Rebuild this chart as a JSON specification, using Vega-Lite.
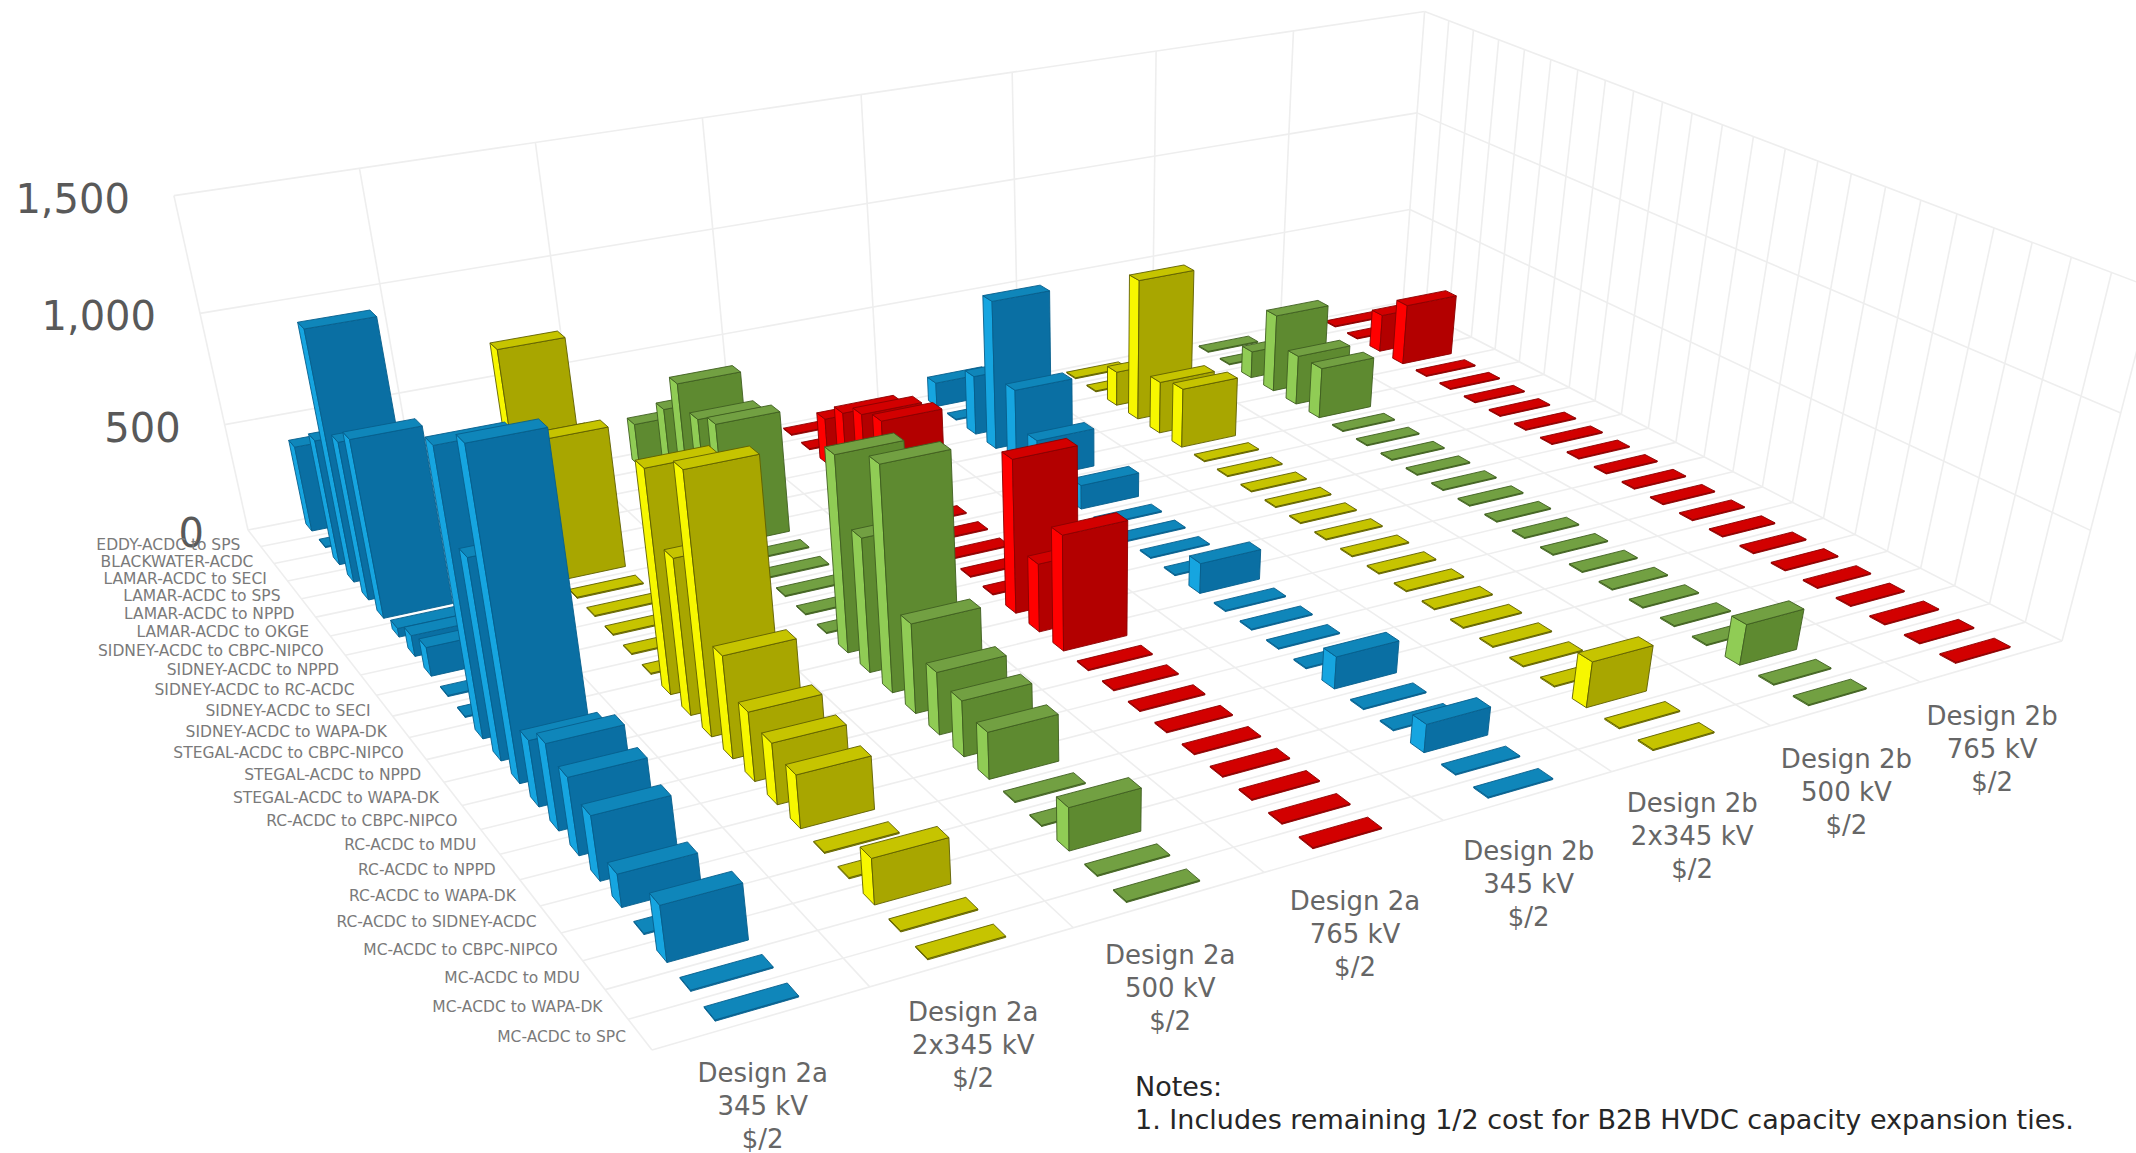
{"$schema":"https://vega.github.io/schema/vega-lite/v6.json","width":2136,"height":1153,"padding":0,"autosize":{"type":"fit","contains":"padding"},"background":"white","config":{"view":{"stroke":null}},
"datasets":{
"routes":[{"route":"EDDY-ACDC to SPS"},{"route":"BLACKWATER-ACDC"},{"route":"LAMAR-ACDC to SECI"},{"route":"LAMAR-ACDC to SPS"},{"route":"LAMAR-ACDC to NPPD"},{"route":"LAMAR-ACDC to OKGE"},{"route":"SIDNEY-ACDC to CBPC-NIPCO"},{"route":"SIDNEY-ACDC to NPPD"},{"route":"SIDNEY-ACDC to RC-ACDC"},{"route":"SIDNEY-ACDC to SECI"},{"route":"SIDNEY-ACDC to WAPA-DK"},{"route":"STEGAL-ACDC to CBPC-NIPCO"},{"route":"STEGAL-ACDC to NPPD"},{"route":"STEGAL-ACDC to WAPA-DK"},{"route":"RC-ACDC to CBPC-NIPCO"},{"route":"RC-ACDC to MDU"},{"route":"RC-ACDC to NPPD"},{"route":"RC-ACDC to WAPA-DK"},{"route":"RC-ACDC to SIDNEY-ACDC"},{"route":"MC-ACDC to CBPC-NIPCO"},{"route":"MC-ACDC to MDU"},{"route":"MC-ACDC to WAPA-DK"},{"route":"MC-ACDC to SPC"}],
"designs":[{"label":"Design 2a\n345 kV\n$/2"},{"label":"Design 2a\n2x345 kV\n$/2"},{"label":"Design 2a\n500 kV\n$/2"},{"label":"Design 2a\n765 kV\n$/2"},{"label":"Design 2b\n345 kV\n$/2"},{"label":"Design 2b\n2x345 kV\n$/2"},{"label":"Design 2b\n500 kV\n$/2"},{"label":"Design 2b\n765 kV\n$/2"}],
"ticks":[{"tick":0},{"tick":500},{"tick":1000},{"tick":1500}],
"notes":[{"note":"Notes:","line":0},{"note":"1. Includes remaining 1/2 cost for B2B HVDC capacity expansion ties.","line":1}],
"grid":[
{"c0":0,"r0":0,"v0":0,"c1":0,"r1":23,"v1":0},{"c0":1,"r0":0,"v0":0,"c1":1,"r1":23,"v1":0},{"c0":2,"r0":0,"v0":0,"c1":2,"r1":23,"v1":0},{"c0":3,"r0":0,"v0":0,"c1":3,"r1":23,"v1":0},{"c0":4,"r0":0,"v0":0,"c1":4,"r1":23,"v1":0},{"c0":5,"r0":0,"v0":0,"c1":5,"r1":23,"v1":0},{"c0":6,"r0":0,"v0":0,"c1":6,"r1":23,"v1":0},{"c0":7,"r0":0,"v0":0,"c1":7,"r1":23,"v1":0},{"c0":8,"r0":0,"v0":0,"c1":8,"r1":23,"v1":0},
{"c0":0,"r0":0,"v0":0,"c1":8,"r1":0,"v1":0},{"c0":0,"r0":1,"v0":0,"c1":8,"r1":1,"v1":0},{"c0":0,"r0":2,"v0":0,"c1":8,"r1":2,"v1":0},{"c0":0,"r0":3,"v0":0,"c1":8,"r1":3,"v1":0},{"c0":0,"r0":4,"v0":0,"c1":8,"r1":4,"v1":0},{"c0":0,"r0":5,"v0":0,"c1":8,"r1":5,"v1":0},{"c0":0,"r0":6,"v0":0,"c1":8,"r1":6,"v1":0},{"c0":0,"r0":7,"v0":0,"c1":8,"r1":7,"v1":0},{"c0":0,"r0":8,"v0":0,"c1":8,"r1":8,"v1":0},{"c0":0,"r0":9,"v0":0,"c1":8,"r1":9,"v1":0},{"c0":0,"r0":10,"v0":0,"c1":8,"r1":10,"v1":0},{"c0":0,"r0":11,"v0":0,"c1":8,"r1":11,"v1":0},{"c0":0,"r0":12,"v0":0,"c1":8,"r1":12,"v1":0},{"c0":0,"r0":13,"v0":0,"c1":8,"r1":13,"v1":0},{"c0":0,"r0":14,"v0":0,"c1":8,"r1":14,"v1":0},{"c0":0,"r0":15,"v0":0,"c1":8,"r1":15,"v1":0},{"c0":0,"r0":16,"v0":0,"c1":8,"r1":16,"v1":0},{"c0":0,"r0":17,"v0":0,"c1":8,"r1":17,"v1":0},{"c0":0,"r0":18,"v0":0,"c1":8,"r1":18,"v1":0},{"c0":0,"r0":19,"v0":0,"c1":8,"r1":19,"v1":0},{"c0":0,"r0":20,"v0":0,"c1":8,"r1":20,"v1":0},{"c0":0,"r0":21,"v0":0,"c1":8,"r1":21,"v1":0},{"c0":0,"r0":22,"v0":0,"c1":8,"r1":22,"v1":0},{"c0":0,"r0":23,"v0":0,"c1":8,"r1":23,"v1":0},
{"c0":0,"r0":0,"v0":0,"c1":0,"r1":0,"v1":1500},{"c0":1,"r0":0,"v0":0,"c1":1,"r1":0,"v1":1500},{"c0":2,"r0":0,"v0":0,"c1":2,"r1":0,"v1":1500},{"c0":3,"r0":0,"v0":0,"c1":3,"r1":0,"v1":1500},{"c0":4,"r0":0,"v0":0,"c1":4,"r1":0,"v1":1500},{"c0":5,"r0":0,"v0":0,"c1":5,"r1":0,"v1":1500},{"c0":6,"r0":0,"v0":0,"c1":6,"r1":0,"v1":1500},{"c0":7,"r0":0,"v0":0,"c1":7,"r1":0,"v1":1500},{"c0":8,"r0":0,"v0":0,"c1":8,"r1":0,"v1":1500},
{"c0":0,"r0":0,"v0":500,"c1":8,"r1":0,"v1":500},{"c0":0,"r0":0,"v0":1000,"c1":8,"r1":0,"v1":1000},{"c0":0,"r0":0,"v0":1500,"c1":8,"r1":0,"v1":1500},
{"c0":8,"r0":1,"v0":0,"c1":8,"r1":1,"v1":1500},{"c0":8,"r0":2,"v0":0,"c1":8,"r1":2,"v1":1500},{"c0":8,"r0":3,"v0":0,"c1":8,"r1":3,"v1":1500},{"c0":8,"r0":4,"v0":0,"c1":8,"r1":4,"v1":1500},{"c0":8,"r0":5,"v0":0,"c1":8,"r1":5,"v1":1500},{"c0":8,"r0":6,"v0":0,"c1":8,"r1":6,"v1":1500},{"c0":8,"r0":7,"v0":0,"c1":8,"r1":7,"v1":1500},{"c0":8,"r0":8,"v0":0,"c1":8,"r1":8,"v1":1500},{"c0":8,"r0":9,"v0":0,"c1":8,"r1":9,"v1":1500},{"c0":8,"r0":10,"v0":0,"c1":8,"r1":10,"v1":1500},{"c0":8,"r0":11,"v0":0,"c1":8,"r1":11,"v1":1500},{"c0":8,"r0":12,"v0":0,"c1":8,"r1":12,"v1":1500},{"c0":8,"r0":13,"v0":0,"c1":8,"r1":13,"v1":1500},{"c0":8,"r0":14,"v0":0,"c1":8,"r1":14,"v1":1500},{"c0":8,"r0":15,"v0":0,"c1":8,"r1":15,"v1":1500},{"c0":8,"r0":16,"v0":0,"c1":8,"r1":16,"v1":1500},{"c0":8,"r0":17,"v0":0,"c1":8,"r1":17,"v1":1500},{"c0":8,"r0":18,"v0":0,"c1":8,"r1":18,"v1":1500},{"c0":8,"r0":19,"v0":0,"c1":8,"r1":19,"v1":1500},{"c0":8,"r0":20,"v0":0,"c1":8,"r1":20,"v1":1500},{"c0":8,"r0":21,"v0":0,"c1":8,"r1":21,"v1":1500},{"c0":8,"r0":22,"v0":0,"c1":8,"r1":22,"v1":1500},{"c0":8,"r0":23,"v0":0,"c1":8,"r1":23,"v1":1500},
{"c0":8,"r0":0,"v0":500,"c1":8,"r1":23,"v1":500},{"c0":8,"r0":0,"v0":1000,"c1":8,"r1":23,"v1":1000},{"c0":8,"r0":0,"v0":1500,"c1":8,"r1":23,"v1":1500}
],
"bars":[
{"route":"EDDY-ACDC to SPS","design":"2b 765","value":5},{"route":"EDDY-ACDC to SPS","design":"2b 500","value":5},{"route":"EDDY-ACDC to SPS","design":"2b 2x345","value":5},{"route":"EDDY-ACDC to SPS","design":"2b 345","value":120},{"route":"EDDY-ACDC to SPS","design":"2a 765","value":5},{"route":"EDDY-ACDC to SPS","design":"2a 500","value":205},{"route":"EDDY-ACDC to SPS","design":"2a 2x345","value":250},{"route":"EDDY-ACDC to SPS","design":"2a 345","value":400},
{"route":"BLACKWATER-ACDC","design":"2b 765","value":5},{"route":"BLACKWATER-ACDC","design":"2b 500","value":5},{"route":"BLACKWATER-ACDC","design":"2b 2x345","value":5},{"route":"BLACKWATER-ACDC","design":"2b 345","value":5},{"route":"BLACKWATER-ACDC","design":"2a 765","value":5},{"route":"BLACKWATER-ACDC","design":"2a 500","value":5},{"route":"BLACKWATER-ACDC","design":"2a 2x345","value":5},{"route":"BLACKWATER-ACDC","design":"2a 345","value":5},
{"route":"LAMAR-ACDC to SECI","design":"2b 765","value":190},{"route":"LAMAR-ACDC to SECI","design":"2b 500","value":135},{"route":"LAMAR-ACDC to SECI","design":"2b 2x345","value":170},{"route":"LAMAR-ACDC to SECI","design":"2b 345","value":290},{"route":"LAMAR-ACDC to SECI","design":"2a 765","value":225},{"route":"LAMAR-ACDC to SECI","design":"2a 500","value":420},{"route":"LAMAR-ACDC to SECI","design":"2a 2x345","value":400},{"route":"LAMAR-ACDC to SECI","design":"2a 345","value":575},
{"route":"LAMAR-ACDC to SPS","design":"2b 765","value":305},{"route":"LAMAR-ACDC to SPS","design":"2b 500","value":385},{"route":"LAMAR-ACDC to SPS","design":"2b 2x345","value":690},{"route":"LAMAR-ACDC to SPS","design":"2b 345","value":720},{"route":"LAMAR-ACDC to SPS","design":"2a 765","value":325},{"route":"LAMAR-ACDC to SPS","design":"2a 500","value":610},{"route":"LAMAR-ACDC to SPS","design":"2a 2x345","value":905},{"route":"LAMAR-ACDC to SPS","design":"2a 345","value":1130},
{"route":"LAMAR-ACDC to NPPD","design":"2b 765","value":5},{"route":"LAMAR-ACDC to NPPD","design":"2b 500","value":245},{"route":"LAMAR-ACDC to NPPD","design":"2b 2x345","value":255},{"route":"LAMAR-ACDC to NPPD","design":"2b 345","value":360},{"route":"LAMAR-ACDC to NPPD","design":"2a 765","value":390},{"route":"LAMAR-ACDC to NPPD","design":"2a 500","value":515},{"route":"LAMAR-ACDC to NPPD","design":"2a 2x345","value":560},{"route":"LAMAR-ACDC to NPPD","design":"2a 345","value":715},
{"route":"LAMAR-ACDC to OKGE","design":"2b 765","value":5},{"route":"LAMAR-ACDC to OKGE","design":"2b 500","value":250},{"route":"LAMAR-ACDC to OKGE","design":"2b 2x345","value":290},{"route":"LAMAR-ACDC to OKGE","design":"2b 345","value":185},{"route":"LAMAR-ACDC to OKGE","design":"2a 765","value":430},{"route":"LAMAR-ACDC to OKGE","design":"2a 500","value":565},{"route":"LAMAR-ACDC to OKGE","design":"2a 2x345","value":645},{"route":"LAMAR-ACDC to OKGE","design":"2a 345","value":800},
{"route":"SIDNEY-ACDC to CBPC-NIPCO","design":"2b 765","value":5},{"route":"SIDNEY-ACDC to CBPC-NIPCO","design":"2b 500","value":5},{"route":"SIDNEY-ACDC to CBPC-NIPCO","design":"2b 2x345","value":5},{"route":"SIDNEY-ACDC to CBPC-NIPCO","design":"2b 345","value":5},{"route":"SIDNEY-ACDC to CBPC-NIPCO","design":"2a 765","value":5},{"route":"SIDNEY-ACDC to CBPC-NIPCO","design":"2a 500","value":5},{"route":"SIDNEY-ACDC to CBPC-NIPCO","design":"2a 2x345","value":5},{"route":"SIDNEY-ACDC to CBPC-NIPCO","design":"2a 345","value":40},
{"route":"SIDNEY-ACDC to NPPD","design":"2b 765","value":5},{"route":"SIDNEY-ACDC to NPPD","design":"2b 500","value":5},{"route":"SIDNEY-ACDC to NPPD","design":"2b 2x345","value":5},{"route":"SIDNEY-ACDC to NPPD","design":"2b 345","value":115},{"route":"SIDNEY-ACDC to NPPD","design":"2a 765","value":5},{"route":"SIDNEY-ACDC to NPPD","design":"2a 500","value":5},{"route":"SIDNEY-ACDC to NPPD","design":"2a 2x345","value":5},{"route":"SIDNEY-ACDC to NPPD","design":"2a 345","value":95},
{"route":"SIDNEY-ACDC to RC-ACDC","design":"2b 765","value":5},{"route":"SIDNEY-ACDC to RC-ACDC","design":"2b 500","value":5},{"route":"SIDNEY-ACDC to RC-ACDC","design":"2b 2x345","value":5},{"route":"SIDNEY-ACDC to RC-ACDC","design":"2b 345","value":5},{"route":"SIDNEY-ACDC to RC-ACDC","design":"2a 765","value":5},{"route":"SIDNEY-ACDC to RC-ACDC","design":"2a 500","value":5},{"route":"SIDNEY-ACDC to RC-ACDC","design":"2a 2x345","value":5},{"route":"SIDNEY-ACDC to RC-ACDC","design":"2a 345","value":130},
{"route":"SIDNEY-ACDC to SECI","design":"2b 765","value":5},{"route":"SIDNEY-ACDC to SECI","design":"2b 500","value":5},{"route":"SIDNEY-ACDC to SECI","design":"2b 2x345","value":5},{"route":"SIDNEY-ACDC to SECI","design":"2b 345","value":5},{"route":"SIDNEY-ACDC to SECI","design":"2a 765","value":5},{"route":"SIDNEY-ACDC to SECI","design":"2a 500","value":5},{"route":"SIDNEY-ACDC to SECI","design":"2a 2x345","value":5},{"route":"SIDNEY-ACDC to SECI","design":"2a 345","value":5},
{"route":"SIDNEY-ACDC to WAPA-DK","design":"2b 765","value":5},{"route":"SIDNEY-ACDC to WAPA-DK","design":"2b 500","value":5},{"route":"SIDNEY-ACDC to WAPA-DK","design":"2b 2x345","value":5},{"route":"SIDNEY-ACDC to WAPA-DK","design":"2b 345","value":5},{"route":"SIDNEY-ACDC to WAPA-DK","design":"2a 765","value":5},{"route":"SIDNEY-ACDC to WAPA-DK","design":"2a 500","value":5},{"route":"SIDNEY-ACDC to WAPA-DK","design":"2a 2x345","value":5},{"route":"SIDNEY-ACDC to WAPA-DK","design":"2a 345","value":5},
{"route":"STEGAL-ACDC to CBPC-NIPCO","design":"2b 765","value":5},{"route":"STEGAL-ACDC to CBPC-NIPCO","design":"2b 500","value":5},{"route":"STEGAL-ACDC to CBPC-NIPCO","design":"2b 2x345","value":5},{"route":"STEGAL-ACDC to CBPC-NIPCO","design":"2b 345","value":5},{"route":"STEGAL-ACDC to CBPC-NIPCO","design":"2a 765","value":695},{"route":"STEGAL-ACDC to CBPC-NIPCO","design":"2a 500","value":870},{"route":"STEGAL-ACDC to CBPC-NIPCO","design":"2a 2x345","value":970},{"route":"STEGAL-ACDC to CBPC-NIPCO","design":"2a 345","value":1215},
{"route":"STEGAL-ACDC to NPPD","design":"2b 765","value":5},{"route":"STEGAL-ACDC to NPPD","design":"2b 500","value":5},{"route":"STEGAL-ACDC to NPPD","design":"2b 2x345","value":5},{"route":"STEGAL-ACDC to NPPD","design":"2b 345","value":140},{"route":"STEGAL-ACDC to NPPD","design":"2a 765","value":310},{"route":"STEGAL-ACDC to NPPD","design":"2a 500","value":595},{"route":"STEGAL-ACDC to NPPD","design":"2a 2x345","value":680},{"route":"STEGAL-ACDC to NPPD","design":"2a 345","value":855},
{"route":"STEGAL-ACDC to WAPA-DK","design":"2b 765","value":5},{"route":"STEGAL-ACDC to WAPA-DK","design":"2b 500","value":5},{"route":"STEGAL-ACDC to WAPA-DK","design":"2b 2x345","value":5},{"route":"STEGAL-ACDC to WAPA-DK","design":"2b 345","value":5},{"route":"STEGAL-ACDC to WAPA-DK","design":"2a 765","value":520},{"route":"STEGAL-ACDC to WAPA-DK","design":"2a 500","value":980},{"route":"STEGAL-ACDC to WAPA-DK","design":"2a 2x345","value":1115},{"route":"STEGAL-ACDC to WAPA-DK","design":"2a 345","value":1370},
{"route":"RC-ACDC to CBPC-NIPCO","design":"2b 765","value":5},{"route":"RC-ACDC to CBPC-NIPCO","design":"2b 500","value":5},{"route":"RC-ACDC to CBPC-NIPCO","design":"2b 2x345","value":5},{"route":"RC-ACDC to CBPC-NIPCO","design":"2b 345","value":5},{"route":"RC-ACDC to CBPC-NIPCO","design":"2a 765","value":5},{"route":"RC-ACDC to CBPC-NIPCO","design":"2a 500","value":395},{"route":"RC-ACDC to CBPC-NIPCO","design":"2a 2x345","value":445},{"route":"RC-ACDC to CBPC-NIPCO","design":"2a 345","value":285},
{"route":"RC-ACDC to MDU","design":"2b 765","value":5},{"route":"RC-ACDC to MDU","design":"2b 500","value":5},{"route":"RC-ACDC to MDU","design":"2b 2x345","value":5},{"route":"RC-ACDC to MDU","design":"2b 345","value":5},{"route":"RC-ACDC to MDU","design":"2a 765","value":5},{"route":"RC-ACDC to MDU","design":"2a 500","value":275},{"route":"RC-ACDC to MDU","design":"2a 2x345","value":300},{"route":"RC-ACDC to MDU","design":"2a 345","value":370},
{"route":"RC-ACDC to NPPD","design":"2b 765","value":5},{"route":"RC-ACDC to NPPD","design":"2b 500","value":5},{"route":"RC-ACDC to NPPD","design":"2b 2x345","value":5},{"route":"RC-ACDC to NPPD","design":"2b 345","value":5},{"route":"RC-ACDC to NPPD","design":"2a 765","value":5},{"route":"RC-ACDC to NPPD","design":"2a 500","value":245},{"route":"RC-ACDC to NPPD","design":"2a 2x345","value":265},{"route":"RC-ACDC to NPPD","design":"2a 345","value":330},
{"route":"RC-ACDC to WAPA-DK","design":"2b 765","value":5},{"route":"RC-ACDC to WAPA-DK","design":"2b 500","value":5},{"route":"RC-ACDC to WAPA-DK","design":"2b 2x345","value":5},{"route":"RC-ACDC to WAPA-DK","design":"2b 345","value":145},{"route":"RC-ACDC to WAPA-DK","design":"2a 765","value":5},{"route":"RC-ACDC to WAPA-DK","design":"2a 500","value":205},{"route":"RC-ACDC to WAPA-DK","design":"2a 2x345","value":230},{"route":"RC-ACDC to WAPA-DK","design":"2a 345","value":275},
{"route":"RC-ACDC to SIDNEY-ACDC","design":"2b 765","value":5},{"route":"RC-ACDC to SIDNEY-ACDC","design":"2b 500","value":5},{"route":"RC-ACDC to SIDNEY-ACDC","design":"2b 2x345","value":5},{"route":"RC-ACDC to SIDNEY-ACDC","design":"2b 345","value":5},{"route":"RC-ACDC to SIDNEY-ACDC","design":"2a 765","value":5},{"route":"RC-ACDC to SIDNEY-ACDC","design":"2a 500","value":5},{"route":"RC-ACDC to SIDNEY-ACDC","design":"2a 2x345","value":5},{"route":"RC-ACDC to SIDNEY-ACDC","design":"2a 345","value":140},
{"route":"MC-ACDC to CBPC-NIPCO","design":"2b 765","value":5},{"route":"MC-ACDC to CBPC-NIPCO","design":"2b 500","value":5},{"route":"MC-ACDC to CBPC-NIPCO","design":"2b 2x345","value":5},{"route":"MC-ACDC to CBPC-NIPCO","design":"2b 345","value":5},{"route":"MC-ACDC to CBPC-NIPCO","design":"2a 765","value":5},{"route":"MC-ACDC to CBPC-NIPCO","design":"2a 500","value":5},{"route":"MC-ACDC to CBPC-NIPCO","design":"2a 2x345","value":5},{"route":"MC-ACDC to CBPC-NIPCO","design":"2a 345","value":5},
{"route":"MC-ACDC to MDU","design":"2b 765","value":5},{"route":"MC-ACDC to MDU","design":"2b 500","value":185},{"route":"MC-ACDC to MDU","design":"2b 2x345","value":205},{"route":"MC-ACDC to MDU","design":"2b 345","value":125},{"route":"MC-ACDC to MDU","design":"2a 765","value":5},{"route":"MC-ACDC to MDU","design":"2a 500","value":185},{"route":"MC-ACDC to MDU","design":"2a 2x345","value":195},{"route":"MC-ACDC to MDU","design":"2a 345","value":235},
{"route":"MC-ACDC to WAPA-DK","design":"2b 765","value":5},{"route":"MC-ACDC to WAPA-DK","design":"2b 500","value":5},{"route":"MC-ACDC to WAPA-DK","design":"2b 2x345","value":5},{"route":"MC-ACDC to WAPA-DK","design":"2b 345","value":5},{"route":"MC-ACDC to WAPA-DK","design":"2a 765","value":5},{"route":"MC-ACDC to WAPA-DK","design":"2a 500","value":5},{"route":"MC-ACDC to WAPA-DK","design":"2a 2x345","value":5},{"route":"MC-ACDC to WAPA-DK","design":"2a 345","value":5},
{"route":"MC-ACDC to SPC","design":"2b 765","value":5},{"route":"MC-ACDC to SPC","design":"2b 500","value":5},{"route":"MC-ACDC to SPC","design":"2b 2x345","value":5},{"route":"MC-ACDC to SPC","design":"2b 345","value":5},{"route":"MC-ACDC to SPC","design":"2a 765","value":5},{"route":"MC-ACDC to SPC","design":"2a 500","value":5},{"route":"MC-ACDC to SPC","design":"2a 2x345","value":5},{"route":"MC-ACDC to SPC","design":"2a 345","value":5}
]},
"layer":[
{"data":{"name":"grid"},
"transform":[
{"calculate":"1+0.20189*datum.c0/8-0.27521*datum.r0/23-0.08*datum.v0/1500","as":"w0"},
{"calculate":"1+0.20189*datum.c1/8-0.27521*datum.r1/23-0.08*datum.v1/1500","as":"w1"},
{"calculate":"(1438.25*datum.c0/8+224.56*datum.r0/23+248-88*datum.v0/1500)/datum.w0","as":"px"},
{"calculate":"(-167.03*datum.c0/8+231.03*datum.r0/23+530-350*datum.v0/1500)/datum.w0","as":"py"},
{"calculate":"(1438.25*datum.c1/8+224.56*datum.r1/23+248-88*datum.v1/1500)/datum.w1","as":"px2"},
{"calculate":"(-167.03*datum.c1/8+231.03*datum.r1/23+530-350*datum.v1/1500)/datum.w1","as":"py2"}],
"mark":{"type":"rule","color":"#eeeeee","strokeWidth":1.6,"clip":true},
"encoding":{"x":{"field":"px","type":"quantitative","scale":{"domain":[0,2136],"range":[0,2136],"nice":false,"zero":false},"axis":null},"x2":{"field":"px2"},"y":{"field":"py","type":"quantitative","scale":{"domain":[0,1153],"range":[0,1153],"nice":false,"zero":false},"axis":null},"y2":{"field":"py2"}}},
{"data":{"name":"bars"},
"transform":[
{"calculate":"indexof(['2a 345','2a 2x345','2a 500','2a 765','2b 345','2b 2x345','2b 500','2b 765'],datum.design)","as":"c"},
{"calculate":"indexof(['EDDY-ACDC to SPS','BLACKWATER-ACDC','LAMAR-ACDC to SECI','LAMAR-ACDC to SPS','LAMAR-ACDC to NPPD','LAMAR-ACDC to OKGE','SIDNEY-ACDC to CBPC-NIPCO','SIDNEY-ACDC to NPPD','SIDNEY-ACDC to RC-ACDC','SIDNEY-ACDC to SECI','SIDNEY-ACDC to WAPA-DK','STEGAL-ACDC to CBPC-NIPCO','STEGAL-ACDC to NPPD','STEGAL-ACDC to WAPA-DK','RC-ACDC to CBPC-NIPCO','RC-ACDC to MDU','RC-ACDC to NPPD','RC-ACDC to WAPA-DK','RC-ACDC to SIDNEY-ACDC','MC-ACDC to CBPC-NIPCO','MC-ACDC to MDU','MC-ACDC to WAPA-DK','MC-ACDC to SPC'],datum.route)","as":"r"},
{"calculate":"[0,1,2]","as":"f"},{"flatten":["f"]},
{"calculate":"[0,1,2,3,4]","as":"k"},{"flatten":["k"]},
{"calculate":"datum.k%4","as":"kk"},
{"calculate":"datum.c+0.315+0.385*[[0,0,0,0],[0,1,1,0],[0,1,1,0]][datum.f][datum.kk]","as":"u"},
{"calculate":"datum.r+0.28+0.44*[[0,1,1,0],[1,1,1,1],[0,0,1,1]][datum.f][datum.kk]","as":"v"},
{"calculate":"datum.value*[[0,0,1,1],[0,0,1,1],[1,1,1,1]][datum.f][datum.kk]","as":"h"},
{"calculate":"1+0.20189*datum.u/8-0.27521*datum.v/23-0.08*datum.h/1500","as":"w"},
{"calculate":"(1438.25*datum.u/8+224.56*datum.v/23+248-88*datum.h/1500)/datum.w","as":"px"},
{"calculate":"(-167.03*datum.u/8+231.03*datum.v/23+530-350*datum.h/1500)/datum.w","as":"py"},
{"calculate":"datum.r*100+datum.c*10+datum.f","as":"id"},
{"calculate":"['blue','yellow','green','red'][datum.c%4]","as":"series"},
{"calculate":"datum.series+['-left','-front','-top'][datum.f]","as":"face"}],
"mark":{"type":"line","strokeWidth":0.9,"strokeJoin":"round","clip":true,"interpolate":"linear"},
"encoding":{"x":{"field":"px","type":"quantitative","scale":{"domain":[0,2136],"range":[0,2136],"nice":false,"zero":false},"axis":null},"y":{"field":"py","type":"quantitative","scale":{"domain":[0,1153],"range":[0,1153],"nice":false,"zero":false},"axis":null},"detail":{"field":"id","type":"nominal"},"order":{"field":"k","type":"quantitative"},
"fill":{"field":"face","type":"nominal","legend":null,"scale":{"domain":["blue-left","blue-front","blue-top","yellow-left","yellow-front","yellow-top","green-left","green-front","green-top","red-left","red-front","red-top"],"range":["#16a5e0","#0a6fa3","#0f86ba","#f7f700","#a8a600","#c6c400","#90cc55","#5e8a30","#72a042","#ff0000","#b30000","#d20000"]}},
"stroke":{"field":"series","type":"nominal","legend":null,"scale":{"domain":["blue","yellow","green","red"],"range":["#075f8c","#5f5f00","#3f5f20","#8a0000"]}}}},
{"data":{"name":"ticks"},
"transform":[{"calculate":"1-0.08*datum.tick/1500","as":"w"},{"calculate":"(248-88*datum.tick/1500)/datum.w-44","as":"px"},{"calculate":"(530-350*datum.tick/1500)/datum.w+5","as":"py"}],
"mark":{"type":"text","align":"right","baseline":"middle","font":"DejaVu Sans","fontSize":40,"color":"#595959"},
"encoding":{"x":{"field":"px","type":"quantitative","scale":{"domain":[0,2136],"range":[0,2136],"nice":false,"zero":false},"axis":null},"y":{"field":"py","type":"quantitative","scale":{"domain":[0,1153],"range":[0,1153],"nice":false,"zero":false},"axis":null},"text":{"field":"tick","type":"quantitative","format":","}}},
{"data":{"name":"routes"},
"transform":[{"window":[{"op":"row_number","as":"n"}]},{"calculate":"(datum.n-0.5)/23","as":"t"},{"calculate":"1-0.27521*datum.t","as":"w"},{"calculate":"(224.56*datum.t+248)/datum.w-14","as":"px"},{"calculate":"(231.03*datum.t+530)/datum.w+7-5*datum.t","as":"py"}],
"mark":{"type":"text","align":"right","baseline":"middle","font":"DejaVu Sans","fontSize":15.5,"color":"#7a7a7a"},
"encoding":{"x":{"field":"px","type":"quantitative","scale":{"domain":[0,2136],"range":[0,2136],"nice":false,"zero":false},"axis":null},"y":{"field":"py","type":"quantitative","scale":{"domain":[0,1153],"range":[0,1153],"nice":false,"zero":false},"axis":null},"text":{"field":"route"}}},
{"data":{"name":"designs"},
"transform":[{"window":[{"op":"row_number","as":"n"}]},{"calculate":"(datum.n-0.5)/8","as":"s"},{"calculate":"1+0.20189*datum.s-0.27521","as":"w"},{"calculate":"(1438.25*datum.s+224.56+248)/datum.w","as":"px"},{"calculate":"(-167.03*datum.s+231.03+530)/datum.w+43","as":"py"}],
"mark":{"type":"text","align":"center","baseline":"top","font":"DejaVu Sans","fontSize":26,"lineHeight":33,"lineBreak":"\n","color":"#666666"},
"encoding":{"x":{"field":"px","type":"quantitative","scale":{"domain":[0,2136],"range":[0,2136],"nice":false,"zero":false},"axis":null},"y":{"field":"py","type":"quantitative","scale":{"domain":[0,1153],"range":[0,1153],"nice":false,"zero":false},"axis":null},"text":{"field":"label"}}},
{"data":{"name":"notes"},
"mark":{"type":"text","align":"left","baseline":"middle","font":"DejaVu Sans","fontSize":27,"color":"#262626"},
"encoding":{"x":{"value":1135},"y":{"field":"line","type":"quantitative","scale":{"domain":[0,1],"range":[1088,1121],"nice":false,"zero":false},"axis":null},"text":{"field":"note"}}}
],
"resolve":{"scale":{"y":"independent"}}}
